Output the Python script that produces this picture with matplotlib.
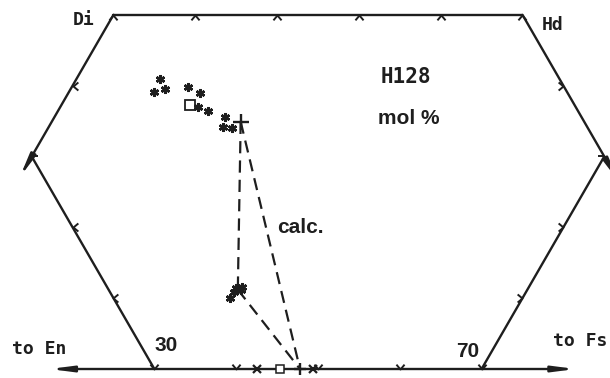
import matplotlib.pyplot as plt
import numpy as np
from matplotlib.path import Path

INK = '#1e1e1e'
H = np.sqrt(3) / 2


def tern(wo, fs):
    """Wo/Fs mol% -> plane coords of the En-Fs-Wo triangle (x along En-Fs)."""
    wo = np.asarray(wo, dtype=float)
    fs = np.asarray(fs, dtype=float)
    return fs + wo / 2, wo * H


# clinopyroxene analyses (Wo, Fs mol %)
aug_wo = [40.9, 39.1, 39.5, 39.8, 38.9, 37.0, 36.4, 35.6, 34.2, 34.0]
aug_fs = [10.2, 10.4, 11.5, 14.2, 16.1, 16.8, 18.4, 20.8, 21.3, 22.5]
aug_avg = (37.3, 15.7)
# low-Ca pyroxene cluster
pig_wo = [11.4, 11.15, 10.9, 10.0, 11.6]
pig_fs = [34.3, 35.0, 34.3, 34.2, 34.9]
pig_avg = (11.2, 34.6)
# calculated bulk composition
calc_pt = (34.9, 23.1)
# points on the En-Fs join
opx_x_fs = [42.5, 49.4]
opx_sq_fs = [45.4]
opx_plus_fs = [47.8]

# outline of the quadrilateral section
top_fs = [0, 10, 20, 30, 40, 50]
bottom_fs = [30, 40, 50, 60, 70]
upper_side_wo = [40]
lower_side_wo = [20, 10]

fig = plt.figure(figsize=(6.1, 3.78), dpi=100)
ax = fig.add_axes([0, 0, 1, 1])
ax.set_xlim(11.125, 85.7)
ax.set_ylim(-1.1, 45.11)
ax.axis('off')

line_kw = dict(color=INK, lw=1.7, solid_capstyle='round', zorder=2)

# Di - Hd
ax.plot(*tern([50, 50], [0, 50]), **line_kw)
# En70 and Fs70 edges
ax.plot(*tern([30, 0], [0, 30]), **line_kw)
ax.plot(*tern([0, 30], [70, 70]), **line_kw)

arrow_kw = dict(arrowstyle='-|>,head_length=1.0,head_width=0.13', color=INK,
                lw=1.7, shrinkA=0, shrinkB=0, mutation_scale=13)
# Di -> En and Hd -> Fs continue past the corners
ax.annotate('', xy=tern(27.1, 0), xytext=tern(50, 0), arrowprops=arrow_kw,
            annotation_clip=False)
ax.annotate('', xy=tern(26.5, 73.5), xytext=tern(50, 50), arrowprops=arrow_kw,
            annotation_clip=False)
# En - Fs join, both ways
both_kw = dict(arrow_kw, arrowstyle='<|-|>,head_length=1.0,head_width=0.13')
ax.annotate('', xy=tern(0, 81.5), xytext=tern(0, 17.2), arrowprops=both_kw,
            annotation_clip=False)

# chevron tick marks
seg3 = [Path.MOVETO, Path.LINETO, Path.LINETO]
down = Path([(-1, -1.2), (0, 0), (1, -1.2)], seg3)
up = Path([(-1, 1.2), (0, 0), (1, 1.2)], seg3)
left = Path([(1.2, 1), (0, 0), (1.2, -1)], seg3)
right = Path([(-1.2, 1), (0, 0), (-1.2, -1)], seg3)
hl = Path([(0, 0), (2, 0)], [Path.MOVETO, Path.LINETO])
hr = Path([(0, 0), (-2, 0)], [Path.MOVETO, Path.LINETO])
tick_kw = dict(ls='none', mfc='none', mec=INK, mew=1.4, ms=7, zorder=3)

ax.plot(*tern([50] * len(top_fs), top_fs), marker=down, **tick_kw)
ax.plot(*tern([0] * len(bottom_fs), bottom_fs), marker=up, **tick_kw)
ax.plot(*tern(upper_side_wo, [0]), marker=left, **tick_kw)
ax.plot(*tern(lower_side_wo, [30 - w for w in lower_side_wo]), marker=left, **tick_kw)
ax.plot(*tern(upper_side_wo, [60]), marker=right, **tick_kw)
ax.plot(*tern(lower_side_wo, [70] * len(lower_side_wo)), marker=right, **tick_kw)
ax.plot(*tern([30], [0]), marker=hl, **dict(tick_kw, ms=9))
ax.plot(*tern([30], [70]), marker=hr, **dict(tick_kw, ms=9))

# tie lines to the calculated bulk
dash_kw = dict(color=INK, lw=1.6, dashes=(5.5, 3.2), zorder=2)
ax.plot(*tern([calc_pt[0], pig_avg[0]], [calc_pt[1], pig_avg[1]]), **dash_kw)
ax.plot(*tern([calc_pt[0], 0], [calc_pt[1], opx_plus_fs[0]]), **dash_kw)
ax.plot(*tern([pig_avg[0], 0], [pig_avg[1], opx_plus_fs[0]]), **dash_kw)

star = (6, 2, 0)
ax.plot(*tern(aug_wo, aug_fs), ls='none', marker=star, ms=6.5, mew=1.8, color=INK, zorder=4)
ax.plot(*tern(pig_wo, pig_fs), ls='none', marker=star, ms=6.5, mew=1.8, color=INK, zorder=4)
ax.plot(*tern(*aug_avg), ls='none', marker='s', ms=6.5, mfc='none', mec=INK, mew=1.3, zorder=4)
ax.plot(*tern(*calc_pt), ls='none', marker='+', ms=12, mew=1.7, color=INK, zorder=4)
ax.plot(*tern([0] * len(opx_x_fs), opx_x_fs), ls='none', marker='x', ms=6, mew=1.6, color=INK, zorder=4)
ax.plot(*tern([0], opx_sq_fs), ls='none', marker='s', ms=6, mfc='white', mec=INK, mew=1.1, zorder=4)
ax.plot(*tern([0], opx_plus_fs), ls='none', marker='+', ms=9, mew=1.7, color=INK, zorder=4)

mono = dict(family='DejaVu Sans Mono', weight='bold', color=INK, ha='center', va='center')
sans = dict(family='Liberation Sans', weight='bold', color=INK, ha='center', va='center')
ax.text(21.4, 42.7, 'Di', fontsize=13, **mono)
ax.text(78.7, 42.1, 'Hd', fontsize=13, **mono)
ax.text(60.8, 35.7, 'H128', fontsize=15, **mono)
ax.text(61.1, 30.6, 'mol %', fontsize=15, **sans)
ax.text(47.9, 17.3, 'calc.', fontsize=15, **sans)
ax.text(15.9, 2.4, 'to En', fontsize=13, **mono)
ax.text(82.0, 3.4, 'to Fs', fontsize=13, **mono)
ax.text(31.4, 2.9, '30', fontsize=15, **sans)
ax.text(68.3, 2.1, '70', fontsize=15, **sans)

fig.savefig('out.png', dpi=100, facecolor='white')
